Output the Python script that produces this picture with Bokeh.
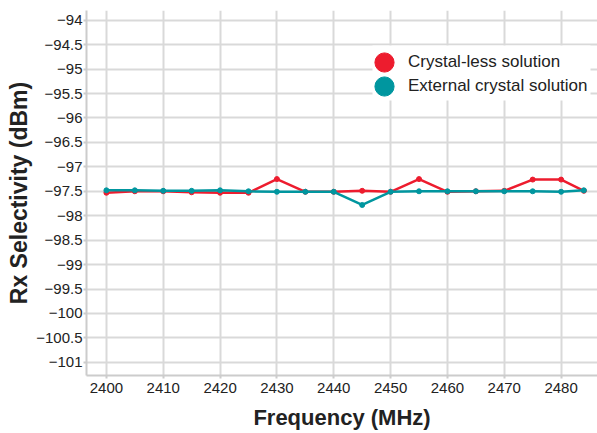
from bokeh.plotting import figure
from bokeh.models import FixedTicker, CustomJSTickFormatter, Legend, LegendItem, Range1d, BoxAnnotation
from bokeh.embed import file_html
from bokeh.resources import INLINE

freq = [2400, 2405, 2410, 2415, 2420, 2425, 2430, 2435, 2440, 2445, 2450,
        2455, 2460, 2465, 2470, 2475, 2480, 2484]
crystal_less = [-97.53, -97.50, -97.50, -97.52, -97.53, -97.53, -97.25, -97.51, -97.51,
                -97.49, -97.51, -97.25, -97.51, -97.50, -97.49, -97.26, -97.26, -97.49]
external_crystal = [-97.48, -97.48, -97.49, -97.49, -97.48, -97.50, -97.51, -97.51, -97.51,
                    -97.78, -97.51, -97.50, -97.50, -97.50, -97.50, -97.50, -97.51, -97.48]
y_ticks = [-94 - 0.5 * i for i in range(15)]
x_ticks = list(range(2400, 2481, 10))
series_names = ["Crystal-less solution", "External crystal solution"]

RED = "#ED1C2E"
TEAL = "#00969F"
FONT = "Liberation Sans"
TXT = "#222222"

p = figure(width=597, height=433, output_backend="svg", toolbar_location=None,
           x_range=Range1d(2396.5, 2486.4), y_range=Range1d(-101.27, -93.8),
           min_border_left=86, min_border_right=0, min_border_top=10, min_border_bottom=58)
p.outline_line_color = None

l1 = p.line(freq, crystal_less, line_color=RED, line_width=2.5)
s1 = p.scatter(freq, crystal_less, size=5, fill_color=RED, line_color=RED)
l2 = p.line(freq, external_crystal, line_color=TEAL, line_width=2.5)
s2 = p.scatter(freq, external_crystal, size=5, fill_color=TEAL, line_color=TEAL)

for ax in (p.xaxis[0], p.yaxis[0]):
    ax.axis_line_color = "#cccccc"
    ax.axis_line_width = 2
    ax.major_tick_line_color = "#cccccc"
    ax.major_tick_line_width = 2
    ax.major_tick_in = 0
    ax.major_tick_out = 3
    ax.minor_tick_line_color = None
    ax.major_label_text_font = FONT
    ax.major_label_text_font_size = "15px"
    ax.major_label_text_color = TXT
    ax.axis_label_text_font = FONT
    ax.axis_label_text_font_style = "bold"
    ax.axis_label_text_color = TXT

p.yaxis.ticker = FixedTicker(ticks=y_ticks)
p.yaxis.formatter = CustomJSTickFormatter(code="return tick.toString().replace('-', '\u2212');")
p.yaxis.axis_label = "Rx Selectivity (dBm)"
p.yaxis.axis_label_text_font_size = "23px"
p.yaxis.major_label_standoff = 1
p.yaxis.axis_label_standoff = 1

p.xaxis.ticker = FixedTicker(ticks=x_ticks)
p.xaxis.axis_label = "Frequency (MHz)"
p.xaxis.axis_label_text_font_size = "22px"
p.xaxis.major_label_standoff = 4
p.xaxis.axis_label_standoff = 9

p.xgrid.ticker = FixedTicker(ticks=x_ticks)
p.ygrid.ticker = FixedTicker(ticks=y_ticks)
for g in (p.xgrid[0], p.ygrid[0]):
    g.grid_line_color = "#d9d9d9"
    g.grid_line_width = 2

# white backdrop of the legend (screen units from frame bottom-left)
p.add_layout(BoxAnnotation(left=286, right=504, top=330, bottom=275,
                           left_units="screen", right_units="screen",
                           top_units="screen", bottom_units="screen",
                           fill_color="white", fill_alpha=1.0, line_color=None))

common = dict(orientation="vertical", background_fill_alpha=0.0, border_line_color=None,
              padding=0, spacing=0, margin=0, glyph_height=48, glyph_width=48,
              label_height=20, label_standoff=0, label_text_font=FONT,
              label_text_font_size="17px", label_text_color=TXT)
leg_a = Legend(items=[LegendItem(label=series_names[0], renderers=[s1])],
               location=(274, 289), **common)
leg_b = Legend(items=[LegendItem(label=series_names[1], renderers=[s2])],
               location=(274, 265), **common)
p.add_layout(leg_a)
p.add_layout(leg_b)

open("out.html", "w").write(file_html(p, INLINE))
